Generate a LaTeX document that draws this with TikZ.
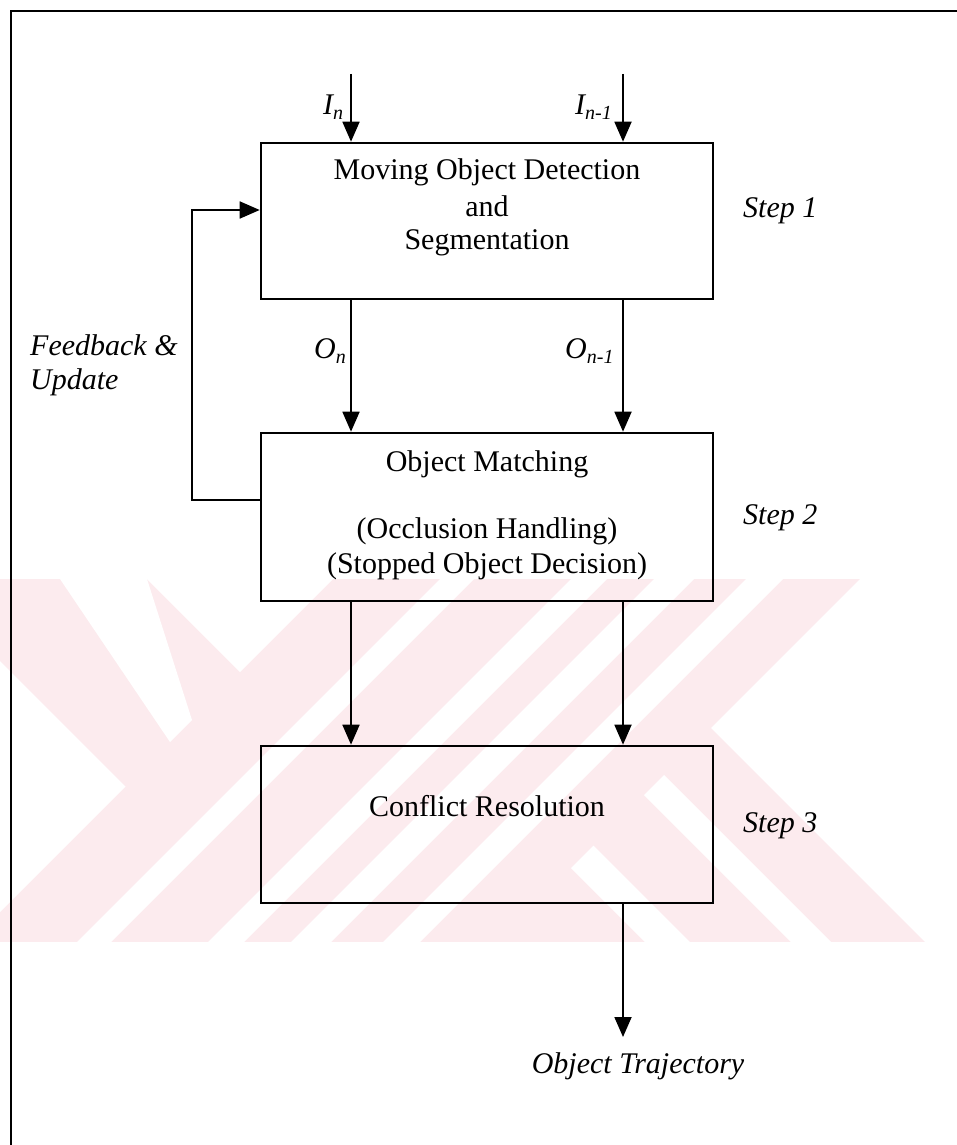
\documentclass[tikz,border=0pt]{standalone}
\usepackage{fontspec}
\setmainfont{Liberation Serif}
\usetikzlibrary{arrows.meta}
\definecolor{wm}{RGB}{252,235,238}
\begin{document}
\begin{tikzpicture}[x=1pt,y=-1pt,
  box/.style={draw, line width=2.6pt, minimum width=452pt, inner sep=0pt},
  txt/.style={anchor=base, inner sep=0pt, font=\fontsize{30}{34}\selectfont},
  itx/.style={anchor=base west, inner sep=0pt, font=\fontsize{30}{34}\selectfont\itshape},
  arr/.style={line width=1.8pt, -{Triangle[length=20pt,width=17pt]}}
]
\useasboundingbox (0,0) rectangle (957,1145);
\fill[white] (0,0) rectangle (957,1145);

% watermark
\begin{scope}
\clip (0,579) rectangle (925,942);
\fill[wm] (0,579) rectangle (925,942);
\begin{scope}
\clip (0,0) -- (912,0) -- (0,912) -- cycle;
\fill[white] (0,661) -- (1000,1661) -- (0,1661) -- cycle;
\fill[white] (60,579) -- (147,579) -- (192,720) -- (170,742) -- cycle;
\fill[white] (0,432) -- (1000,1432) -- (1000,0) -- (0,0) -- cycle;
\end{scope}
\begin{scope}
\clip (912,0) -- (1439,0) -- (0,1439) -- (0,912) -- cycle;
\fill[white] (1019,0) -- (1053,0) -- (0,1053) -- (0,1019) -- cycle;
\fill[white] (1150,0) -- (1186,0) -- (0,1186) -- (0,1150) -- cycle;
\fill[white] (1233,0) -- (1273,0) -- (0,1273) -- (0,1233) -- cycle;
\fill[white] (1325,0) -- (1362,0) -- (0,1362) -- (0,1325) -- cycle;
\end{scope}
\begin{scope}
\clip (1439,0) -- (2000,0) -- (2000,2000) -- (0,2000) -- (0,1439) -- cycle;
\fill[white] (0,17) -- (1000,1017) -- (1000,0) -- (0,0) -- cycle;
\fill[white] (0,111) -- (1000,1111) -- (1000,1151) -- (0,151) -- cycle;
\fill[white] (0,252) -- (1000,1252) -- (1000,1297) -- (0,297) -- cycle;
\end{scope}
\end{scope}

% frame
\draw[line width=2.5pt] (957,11) -- (11,11) -- (11,1145);

% boxes
\node[box, minimum height=156pt] (b1) at (487,221) {};
\node[box, minimum height=168pt] (b2) at (487,517) {};
\node[box, minimum height=157pt] (b3) at (487,824.5) {};

\node[txt] (t1a) at (487,179) {Moving Object Detection};
\node[txt] (t1b) at (487,216) {and};
\node[txt] (t1c) at (487,249) {Segmentation};
\node[txt] (t2a) at (487,471) {Object Matching};
\node[txt] (t2b) at (487,538) {(Occlusion Handling)};
\node[txt] (t2c) at (487,573) {(Stopped Object Decision)};
\node[txt] (t3) at (487,816) {Conflict Resolution};

\node[itx] (s1) at (743,217) {Step 1};
\node[itx] (s2) at (743,524) {Step 2};
\node[itx] (s3) at (743,832) {Step 3};

\node[itx] (fba) at (30,355) {Feedback \&};
\node[itx] (fbb) at (30,389) {Update};

\node[itx] (lin) at (323,115) {I\raisebox{-5pt}{\fontsize{20}{20}\selectfont n}};
\node[itx] (linm) at (575,115) {I\raisebox{-5pt}{\fontsize{20}{20}\selectfont n-1}};
\node[itx] (lon) at (314,358) {O\raisebox{-5pt}{\fontsize{20}{20}\selectfont n}};
\node[itx] (lonm) at (565,358) {O\raisebox{-5pt}{\fontsize{20}{20}\selectfont n-1}};
\node[txt, font=\fontsize{30}{34}\selectfont\itshape] (traj) at (638,1073) {Object Trajectory};

% connectors
\coordinate (i1) at (351,74);
\coordinate (i2) at (623,74);
\coordinate (out) at (623,1037);
\coordinate (fb1) at (192,500);
\coordinate (fb2) at (192,210);

\draw[arr] (i1) -- (b1.north -| i1);
\draw[arr] (i2) -- (b1.north -| i2);
\draw[arr] (b1.south -| i1) -- (b2.north -| i1);
\draw[arr] (b1.south -| i2) -- (b2.north -| i2);
\draw[arr] (b2.south -| i1) -- (b3.north -| i1);
\draw[arr] (b2.south -| i2) -- (b3.north -| i2);
\draw[arr] (b3.south -| out) -- (out);
\draw[arr] (b2.west |- fb1) -- (fb1) -- (fb2) -- (b1.west |- fb2);
\end{tikzpicture}
\end{document}
